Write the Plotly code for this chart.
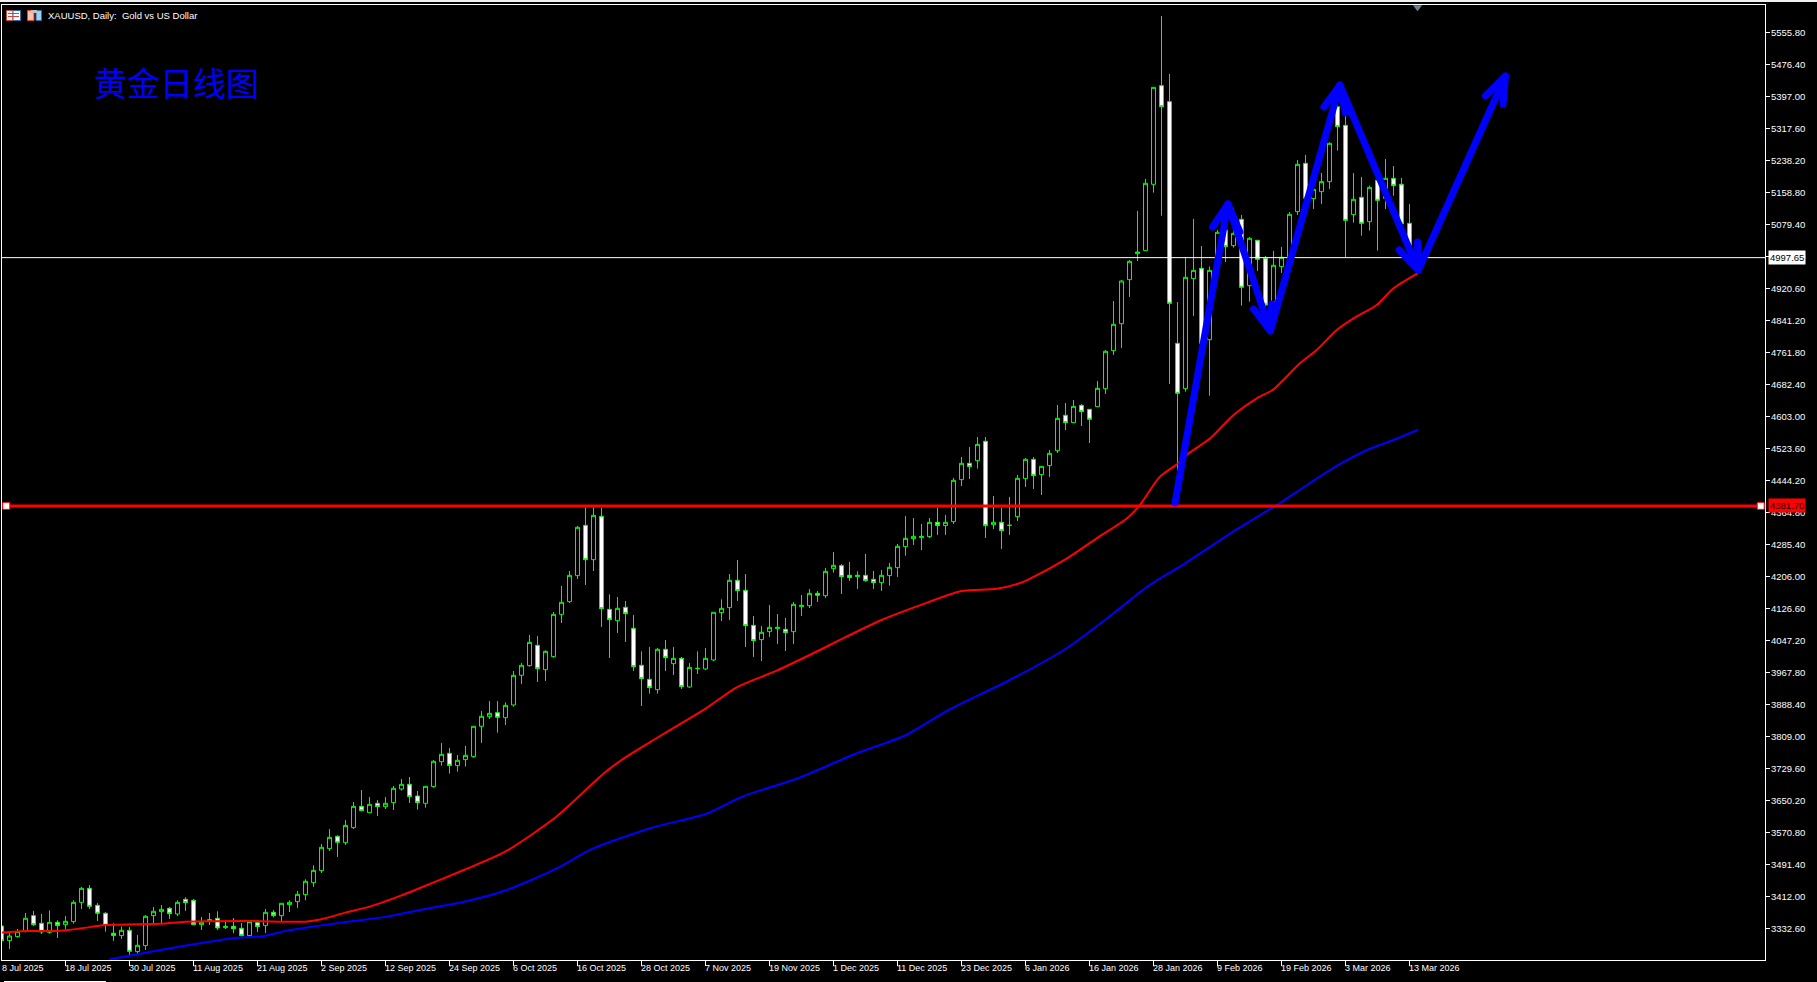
import plotly.graph_objects as go

# ---------- data ----------
symbol_title = "XAUUSD, Daily:\u00a0\u00a0Gold vs US Dollar"
chart_note = "黄金日线图"
date_labels = ["8 Jul 2025","18 Jul 2025","30 Jul 2025","11 Aug 2025","21 Aug 2025","2 Sep 2025","12 Sep 2025",
 "24 Sep 2025","6 Oct 2025","16 Oct 2025","28 Oct 2025","7 Nov 2025","19 Nov 2025","1 Dec 2025","11 Dec 2025",
 "23 Dec 2025","6 Jan 2026","16 Jan 2026","28 Jan 2026","9 Feb 2026","19 Feb 2026","3 Mar 2026","13 Mar 2026"]
date_ticks = [8*k for k in range(len(date_labels))]
price_ticks = [round(3332.6+79.4*k,2) for k in range(29)]
last_price = 4997.65
level_price = 4381.70

body_top = [3339.3,3314.5,3325.3,3358.4,3365,3346,3348.4,3348.4,3350.9,3398,3432.8,3432.8,3390.6,3370.8,3321.2,3328.6,3328.6,3291.4,3363.3,3375.7,
 3380.7,3383.2,3398,3405.5,3403,3348.4,3355.1,3358.4,3338.5,3338.5,3333.5,3350.1,3347.6,3373.2,3373.2,3395.6,3398,3417.9,3450.2,3477.4,
 3534.5,3559.3,3561.8,3589,3636.2,3636.2,3641.2,3643.7,3643.7,3680.9,3690.8,3690.8,3661.9,3685.9,3747.9,3765.3,3767.8,3750.4,3762.8,3834.8,
 3859.6,3867,3868.7,3886.8,3961.3,3986.1,4043.1,4035.7,4020.8,4112.6,4142.4,4209.4,4328.5,4333.4,4358.2,4355.8,4125,4127.5,4130,4077.9,
 3986.1,3951.4,4025.8,4025.8,4003.4,4003.4,3981.1,3978.6,4003.4,4117.6,4127.5,4197,4197,4172.2,4085.3,4068,4080.4,4080.4,4075.4,4137.4,
 4135,4164.7,4164.7,4219.3,4234.2,4233.4,4209.4,4209.4,4209.4,4199.5,4209.4,4229.3,4281.4,4301.2,4306.2,4306.2,4340.9,4340.9,4340.9,4445.1,
 4487.3,4487.3,4534.4,4541.9,4340.9,4340.9,4333.5,4450.1,4497.2,4497.2,4479.8,4512.1,4598.9,4606.4,4628.7,4631.2,4621.3,4673.4,4765.2,4832.2,
 4939.7,4988.5,5011.6,5182.1,5420.2,5424.4,5384.7,4785,4948.8,4966.1,4971.1,4966.1,5060.5,5066.3,5058,5092.8,5045.6,5040.7,4996,4978.7,
 4998.5,5105.2,5229.2,5231.7,5167.2,5186.2,5281.3,5372.3,5325.9,5142.4,5147.3,5172.1,5189.5,5194.4,5194.4,5179.6,5082.8,5027]
body_bottom = [3302.9,3302.9,3312.9,3325.3,3342.6,3324.4,3323.6,3340.2,3342.6,3350.1,3398,3388.1,3370.8,3341,3315.4,3315.4,3276.5,3275.7,3290.6,3365,
 3374.9,3369.9,3369.1,3397.2,3342.6,3342.6,3351.7,3334.4,3335.2,3332.7,3315.4,3315.4,3337.7,3340.2,3365,3365,3392.3,3399.7,3417.1,3446.8,
 3476.6,3531.2,3546.9,3546.1,3583.3,3625.5,3620.5,3635.4,3635.4,3645.3,3679.2,3660.2,3645.3,3643.7,3685.1,3747.1,3737.2,3737.2,3752.1,3759.5,
 3834.8,3858.7,3857,3856.2,3887.7,3961.3,3985.3,3977.8,3975.3,4007.6,4112.6,4144,4208.6,4248.2,4248.2,4126.7,4099.4,4096.9,4114.3,3982.8,
 3953,3930.7,3925.7,4005.1,3990.2,3933.2,3932.3,3977.8,3977,3999.3,4116.8,4129.2,4171.3,4084.5,4047.3,4049.8,4069.6,4077,4067.1,4069.6,
 4131.6,4134.1,4159.8,4158.9,4225.9,4206.1,4203.6,4206.1,4196.2,4191.2,4191.2,4208.6,4228.4,4280.6,4300.4,4302.9,4305.4,4332.7,4332.7,4342.6,
 4446.8,4479,4493.9,4332.7,4335.1,4320.2,4333.5,4355,4449.3,4456.7,4459.2,4481.5,4518.7,4588.2,4588.2,4615.5,4596.5,4627.9,4672.5,4766.8,
 4833.8,4943,5007.5,5015,5179.6,5372.3,4884.3,4661,4672.5,4945.5,4785,4794.1,4994.4,5025,5027.4,4924.1,4928.2,4993.6,4880.2,4888.5,
 4975.4,5000,5111.8,5144.9,5144,5161.4,5186.2,5322.6,5090.2,5104.3,5082.8,5086.9,5139.9,5144.8,5176.2,5081.2,5027.4,4997.65]
wick_high = [3341.8,3321.2,3331.9,3371.6,3376.6,3369.1,3378.2,3353.4,3364.1,3403,3436.1,3441,3396.4,3374.1,3346,3337.7,3336.9,3317,3366.6,3386.5,
 3391.4,3386.5,3403,3410.5,3406.3,3361.7,3371.6,3375.7,3350.1,3359.2,3346.8,3354.2,3354.2,3381.5,3379,3395.6,3403,3426.2,3455.1,3489.8,
 3542.8,3580,3564.3,3602.3,3647,3676.8,3659.4,3652,3659.4,3686.7,3704,3709,3674.3,3685.9,3751.2,3793.4,3781,3763.6,3786,3834.8,
 3872.8,3897.6,3897.6,3894.3,3972,3991.9,4061.3,4058.9,4023.3,4118.4,4182.9,4220.1,4331.8,4378.1,4378.1,4376.4,4162.2,4155.6,4145.7,4111,
 4020.8,4031.6,4029.1,4049,4031.6,4006.8,3991.9,4020.8,4029.1,4117.6,4149.8,4212.7,4247.4,4212.7,4108.5,4083.7,4135.8,4113.4,4103.5,4143.2,
 4160.6,4175.5,4170.5,4227.6,4267.3,4237.5,4242.5,4219.4,4262.4,4220.2,4222.7,4240,4287.2,4356.6,4351.7,4336.8,4351.7,4376.5,4359.1,4450.9,
 4503,4527.8,4552.6,4552.6,4406.2,4376.5,4403.8,4458.3,4500.5,4503,4479.8,4520.4,4632,4637,4644.4,4634.5,4621.3,4691.6,4768.5,4890,
 4942.1,4991.8,5113.4,5192.8,5420.2,5597.2,5453.3,4887.6,4997.6,5093.6,5026.6,4975.3,5066.3,5074.6,5120,5103.5,5048.9,5040.7,5001.8,5014.2,
 5024.2,5111,5240,5252.4,5178,5207.7,5283.8,5388.8,5355.7,5207.7,5197.8,5176.3,5189.5,5242.4,5225,5195.3,5130.8,5035]
wick_low = [3302.9,3282.3,3310.4,3323.6,3339.3,3319.5,3320.3,3309.6,3331.1,3345.1,3381.5,3381.5,3351.7,3325.3,3302.1,3307.1,3267.4,3267.4,3279.8,3345.1,
 3345.1,3356.7,3364.1,3376.6,3341.8,3329.4,3341.8,3329.4,3331.9,3321.2,3312.9,3312.9,3324.4,3322,3360.8,3350.1,3374.1,3384,3403,3436.1,
 3470.8,3525.4,3510.5,3540.3,3580,3625.5,3620.5,3612.2,3629.6,3627.1,3675.1,3644.5,3628,3633,3682.6,3737.2,3717.3,3722.3,3734.7,3757,
 3793.4,3852.9,3819,3838,3883.5,3939.8,3982.8,3944.7,3947.2,4005.1,4091.1,4140.7,4200.3,4185.4,4220.1,4081.2,4004.3,4066.3,4044,3972,
 3885.2,3915.8,3915.8,3972,3962.1,3927.4,3930.7,3964.6,3974.5,3996.8,4096,4098.6,4145.7,4031.6,4006.8,3996.8,4056.4,4039,4021.6,4039,
 4108.5,4128.3,4143.2,4153.1,4216,4163.1,4195.4,4175.5,4193.7,4175.5,4170.6,4183.8,4205.3,4258.2,4284.7,4272.3,4302.1,4309.5,4309.5,4336.8,
 4431,4448.4,4474.1,4302.1,4324.4,4274.8,4309.5,4344.2,4428.6,4423.6,4408.7,4453.4,4512.9,4570,4588.2,4579.9,4537.7,4627.9,4659.3,4756.1,
 4773.4,4900,4989.4,5015,5158.9,5101.8,4684.1,4469.1,4665.1,4852.8,4785,4655.2,4996,4987,5022.4,4878.6,4888.5,4964.6,4872,4876,
 4959.6,4990,5103.5,5130,5118.4,5130.8,5168,5263.1,4997.6,5084.5,5052.2,5064.6,5015,5118.4,5151.5,5074.5,5020.8,4985]
direction = ("d u u u d d u d u u u d d d d u d u u u "
 "u d u d d u u d u d d u d u d u u u u u "
 "u u d u u d u d u u u d d u u u d u u u "
 "u u d u u u u d u u u u u d u d d u d d "
 "d d u d u d u u u u u u d d d u u u d u "
 "u u d u u d d u d d u u u u u u u d u u "
 "u d u d u d u u u d u u u d u d d u u u "
 "u u u u u d d d u u d u u d u d u d d u "
 "u u u d u u u d d u d u d u d d d d").split()

red_ma_index = [0,3,7,10,13,20,23,31,38,40,43,46,50,52,57.8,62.9,69.3,75.2,77.5,81.5,85.7,88.2,91.9,96.9,102.3,104.8,110,115.7,120,124.4,127.3,
 128.4,133.2,136.9,140.7,142.3,144.8,147.1,148.4,151.1,154,156.9,159,162.3,164.4,166.9,169,171.9,174,177]
red_ma = [3322.8,3326.9,3326.9,3333.5,3341.8,3345.1,3350,3351.7,3350,3356,3372.4,3387.3,3415.4,3431.1,3478.3,3522.9,3609.8,3716.5,3751.2,3800.8,3850.5,3881.1,3931.5,3972.9,4024.1,4049,4098.5,4141.7,4170.5,4176,4190,
 4199.5,4251.6,4301.2,4350.8,4383.9,4454.2,4487.3,4512.1,4549.3,4607.2,4648.6,4670.9,4735.4,4768.5,4818.1,4847,4880.1,4921.5,4958.7]
blue_ma_index = [13.6,16.5,21.1,24.8,29,32.8,35.7,39.8,44,48.2,52.3,57.7,62.8,69.3,73.7,81,88.2,92.5,99.8,107,112.8,118.6,125.8,133,138.9,142.5,144.6,147.3,154.4,159.4,163.2,166.9,170.7,174,177]
blue_ma = [3256.6,3267.4,3283.9,3296.3,3308.7,3314.5,3327.8,3340.2,3351.7,3362.5,3379,3398.8,3426,3480.8,3529.4,3581.3,3618.5,3659.4,3707.8,3768.6,3810.7,3877.7,3947.2,4026.6,4113.5,4170.5,4199.5,4230.9,4323.6,4383.9,4433.5,4480.7,4520.4,4545.2,4570]

arrow_index = [146.7,153.3,None,151.4,153.3,154.8,None,153.3,158.6,None,156.5,158.6,158.8,None,158.6,167.3,None,165.3,167.3,168,None,
 167.3,177.1,None,174.7,177.1,177,None,177.1,188,None,185.5,188,187.7]
arrow_price = [4389.6,5130.8,None,5073.7,5130.8,5061.3,None,5130.8,4815.6,None,4870.2,4815.6,4882.6,None,4815.6,5426,None,5371.4,5426,5356.6,None,
 5426,4967,None,5016.6,4967,5036.5,None,4967,5448.4,None,5398.7,5448.4,5378.9]

# ---------- derived ----------
bars = list(range(len(body_top)))
opens = [t if d == "d" else b for t, b, d in zip(body_top, body_bottom, direction)]
closes = [b if d == "d" else t for t, b, d in zip(body_top, body_bottom, direction)]

W, H = 1817, 982
L, R, T, B = 2, 1765, 5, 960
X0, X1 = 0.0625, 220.4375
GREEN = "#00ff00"
FONT = "Liberation Sans"
def fx(px): return (px - L) / (R - L)
def fy(py): return (B - py) / (B - T)

fig = go.Figure()
fig.add_trace(go.Candlestick(x=bars, open=opens, high=wick_high, low=wick_low, close=closes,
    increasing=dict(line=dict(color=GREEN, width=1), fillcolor="#000000"),
    decreasing=dict(line=dict(color=GREEN, width=1), fillcolor="#ffffff"),
    whiskerwidth=0, hoverinfo="skip", showlegend=False))
line_x = [-2, 224]
fig.add_trace(go.Scatter(x=line_x, y=[last_price]*2, mode="lines", line=dict(color="#ffffff", width=1), hoverinfo="skip", showlegend=False))
fig.add_trace(go.Scatter(x=red_ma_index, y=red_ma, mode="lines", line=dict(color="#ff0000", width=2, shape="spline", smoothing=0.7), hoverinfo="skip", showlegend=False))
fig.add_trace(go.Scatter(x=blue_ma_index, y=blue_ma, mode="lines", line=dict(color="#0000ff", width=2, shape="spline", smoothing=0.7), hoverinfo="skip", showlegend=False))
fig.add_trace(go.Scatter(x=line_x, y=[level_price]*2, mode="lines", line=dict(color="#ff0000", width=3), hoverinfo="skip", showlegend=False))
fig.add_trace(go.Scatter(x=[0.6, 219.9], y=[level_price]*2, mode="markers",
    marker=dict(symbol="square", size=7, color="#ffffff", line=dict(color="#ff0000", width=1)), hoverinfo="skip", showlegend=False))
fig.add_trace(go.Scatter(x=arrow_index, y=arrow_price, mode="lines", connectgaps=False,
    line=dict(color="#0000ff", width=7), hoverinfo="skip", showlegend=False))
fig.add_trace(go.Scatter(x=[177], y=[5619], mode="markers",
    marker=dict(symbol="triangle-down", size=8, color="#708090"), hoverinfo="skip", showlegend=False))

ann = []
for tick, lab in zip(date_ticks, date_labels):
    ann.append(dict(x=max(tick, X0), xref="x", y=fy(968), yref="paper", text=lab, showarrow=False, xanchor="left", yanchor="middle",
                    xshift=-3 if tick else -2, font=dict(family=FONT, size=9, color="#ffffff")))
ann.append(dict(x=fx(46), xref="paper", y=fy(15.7), yref="paper", text=symbol_title, showarrow=False, xanchor="left", yanchor="middle",
                font=dict(family=FONT, size=9.5, color="#ffffff")))
ann.append(dict(x=fx(92), xref="paper", y=fy(82), yref="paper", text=chart_note, showarrow=False, xanchor="left", yanchor="middle",
                font=dict(family="Noto Sans CJK SC", size=33, color="#0000ff")))
ann.append(dict(x=fx(1768), xref="paper", y=last_price, yref="y", text=f"{last_price:.2f}", showarrow=False, xanchor="left", yanchor="middle",
                bgcolor="#ffffff", borderpad=1, font=dict(family=FONT, size=9.5, color="#000000")))
ann.append(dict(x=fx(1768), xref="paper", y=level_price, yref="y", text=f"{level_price:.2f}", showarrow=False, xanchor="left", yanchor="middle",
                bgcolor="#ff0000", borderpad=1, font=dict(family=FONT, size=9.5, color="#000000")))

def rect(x0, y0, x1, y1, fill, line=None):
    return dict(type="rect", xref="paper", yref="paper", x0=fx(x0), x1=fx(x1), y0=fy(y0), y1=fy(y1),
                fillcolor=fill, line=dict(color=line or fill, width=1 if line else 0), layer="above")
shapes = [
    rect(0, 0, W, 2, "#f0f0f0"),
    rect(4, 981, 106, 982, "#ffffff"),
    rect(6.5, 10.5, 13, 20.5, "#ffffff", "#e04030"),
    rect(13, 10.5, 20.5, 20.5, "#ffffff", "#2070b0"),
    rect(8, 13, 19, 14, "#e04030"), rect(8, 16, 19, 17, "#e04030"),
    rect(27.5, 10.5, 34, 20.5, "#f8c0b0", "#e04030"),
    rect(36, 10.5, 41.5, 20.5, "#a0d0f0", "#2070b0"),
    rect(31, 10, 37, 13, "#c0c0c0"),
]

fig.update_layout(
    width=W, height=H, autosize=False,
    margin=dict(l=L, r=W-R, t=T, b=H-B, pad=0),
    paper_bgcolor="#000000", plot_bgcolor="#000000",
    showlegend=False, dragmode=False,
    boxgap=0.5, boxgroupgap=0, boxmode="overlay",
    annotations=ann, shapes=shapes,
    xaxis=dict(range=[X0, X1], rangeslider=dict(visible=False), showgrid=False, zeroline=False,
               tickmode="array", tickvals=date_ticks, showticklabels=False, ticks="outside", ticklen=5, tickcolor="#ffffff", tickwidth=1,
               showline=True, linecolor="#ffffff", linewidth=1, mirror=True, fixedrange=True),
    yaxis=dict(range=[3254.9, 5624.5], side="right", showgrid=False, zeroline=False, tickmode="array", tickvals=price_ticks,
               ticktext=[f"{p:.2f}" for p in price_ticks], ticks="outside", ticklen=4, tickcolor="#ffffff", tickwidth=1,
               tickfont=dict(family=FONT, size=9.5, color="#ffffff"), ticklabelstandoff=-1,
               showline=True, linecolor="#ffffff", linewidth=1, mirror=True, fixedrange=True),
)

fig.write_html("out.html", config={"displayModeBar": False},
               post_script="document.body.style.margin='0';document.body.style.overflow='hidden';document.body.style.background='#000';"
                           "document.querySelectorAll('.scatterlayer .js-line').forEach(function(p){p.style.strokeLinecap='round';});")
